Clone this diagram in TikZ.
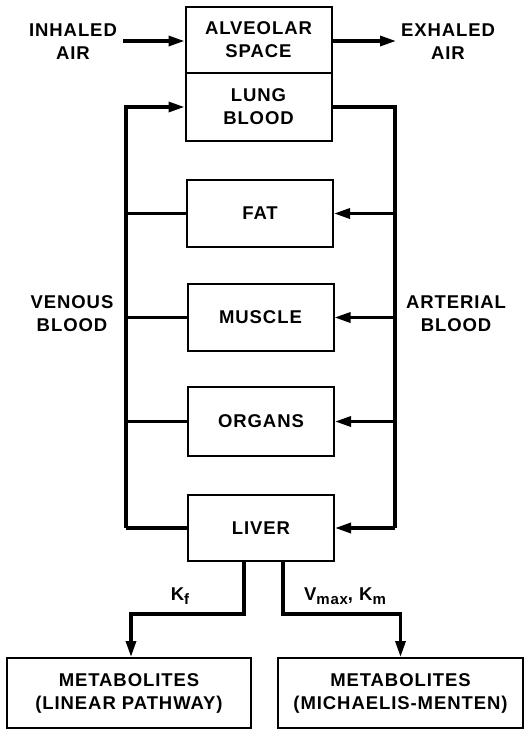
\documentclass[tikz,border=0pt]{standalone}
\usepackage{fontspec}
\setmainfont{Liberation Sans}[LetterSpace=5]
\usetikzlibrary{arrows.meta}
\newcommand{\lowsub}[1]{\raisebox{-0.45ex}{\fontsize{15}{15}\selectfont #1}}
\begin{document}
\begin{tikzpicture}[x=1pt,y=-1pt,
  box/.style={draw,line width=2pt,minimum width=146pt,inner sep=0pt,align=center},
  txt/.style={align=center,inner sep=2pt},
  conn/.style={line width=3.2pt},
  arr/.style={line width=3.2pt,-{Triangle[length=16pt,width=10pt]}},
  every node/.style={font=\fontsize{18.5}{23}\selectfont\bfseries}]
\useasboundingbox (0,0) rectangle (524,729);
\node[box,minimum height=66pt] (alv) at (258.5,40) {ALVEOLAR\\SPACE};
\node[box,minimum height=68pt] (lung) at (258.5,107) {LUNG\\BLOOD};
\node[box,minimum height=67pt] (fat) at (260,213.5) {FAT};
\node[box,minimum height=67pt] (mus) at (260.5,317.5) {MUSCLE};
\node[box,minimum height=69pt] (org) at (261,421.5) {ORGANS};
\node[box,minimum height=66pt] (liv) at (261,528) {LIVER};
\node[box,minimum width=244pt,minimum height=70pt] (ml) at (129,693) {METABOLITES\\(LINEAR PATHWAY)};
\node[box,minimum width=245pt,minimum height=70pt] (mr) at (400.5,693) {METABOLITES\\(MICHAELIS-MENTEN)};
\node[txt] (inh) at (73,42) {INHALED\\AIR};
\node[txt] (exh) at (448,42) {EXHALED\\AIR};
\node[txt] (ven) at (72,314) {VENOUS\\BLOOD};
\node[txt] (art) at (456,314) {ARTERIAL\\BLOOD};
\node[anchor=base,inner sep=0pt] (kf) at (180,600) {K\lowsub{f}};
\node[anchor=base,inner sep=0pt] (vk) at (345,600) {V\lowsub{max}, K\lowsub{m}};
\coordinate (vb) at (126,528);
\coordinate (ab) at (395,528);
\coordinate (bl) at (244,614);
\coordinate (br) at (283,614);
% air
\draw[arr] (123,41) -- (alv.west |- 0,41);
\draw[arr] (alv.east |- 0,41) -- (396,41);
% venous
\draw[conn] (liv.west) -- (vb);
\draw[arr] (vb) |- (lung.west);
\draw[conn] (fat.west) -- (fat.west -| vb);
\draw[conn] (mus.west) -- (mus.west -| vb);
\draw[conn] (org.west) -- (org.west -| vb);
% arterial
\draw[conn] (lung.east) -| (ab);
\draw[arr] (ab) -- (liv.east);
\draw[arr] (fat.east -| ab) -- (fat.east);
\draw[arr] (mus.east -| ab) -- (mus.east);
\draw[arr] (org.east -| ab) -- (org.east);
% metabolism
\draw[arr] (liv.south -| bl) -- (bl) -| (ml.north -| 131,0);
\draw[arr] (liv.south -| br) -- (br) -| (mr.north);
\end{tikzpicture}
\end{document}
